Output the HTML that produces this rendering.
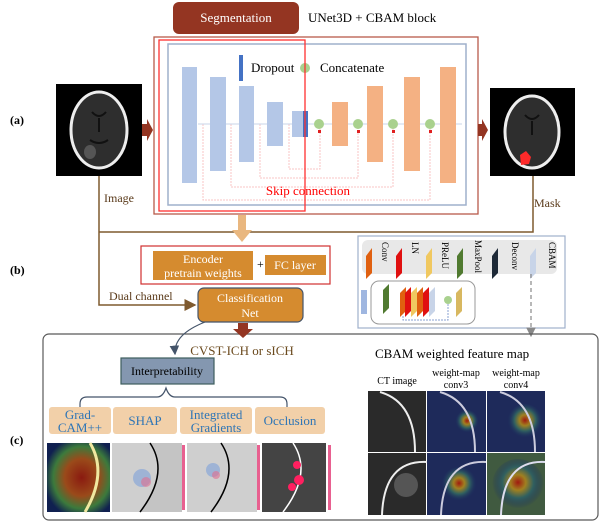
<!DOCTYPE html>
<html><head><meta charset="utf-8"><style>
body{margin:0;background:#fff}
svg{display:block;font-family:"Liberation Serif",serif}
</style></head><body>
<svg width="612" height="522" viewBox="0 0 612 522" xmlns="http://www.w3.org/2000/svg">
<defs>
<marker id="ah" markerWidth="8" markerHeight="8" refX="7" refY="4" orient="auto"><path d="M0,0 L8,4 L0,8z" fill="#7f5a2e"/></marker>
<marker id="ah2" markerWidth="8" markerHeight="8" refX="7" refY="4" orient="auto"><path d="M0,0 L8,4 L0,8z" fill="#44546a"/></marker>
<marker id="ah3" markerWidth="8" markerHeight="8" refX="7" refY="4" orient="auto"><path d="M0,0 L8,4 L0,8z" fill="#888"/></marker>
<radialGradient id="heat" cx="0.55" cy="0.5" r="0.6"><stop offset="0" stop-color="#8a1a10"/><stop offset="0.45" stop-color="#9a4a1a"/><stop offset="0.75" stop-color="#3c7a3c"/><stop offset="1" stop-color="#102050"/></radialGradient>
<radialGradient id="heat2" cx="0.5" cy="0.45" r="0.5"><stop offset="0" stop-color="#a01a10"/><stop offset="0.3" stop-color="#a08020"/><stop offset="0.6" stop-color="#306060"/><stop offset="1" stop-color="#1a2a60" stop-opacity="0"/></radialGradient>
</defs>
<text x="10" y="124" font-size="12" font-weight="bold">(a)</text>
<text x="10" y="274" font-size="12" font-weight="bold">(b)</text>
<text x="10" y="444" font-size="12" font-weight="bold">(c)</text>
<rect x="173" y="2" width="126" height="32" rx="6" fill="#943522"/>
<text x="236" y="22" font-size="13" fill="#fff" text-anchor="middle">Segmentation</text>
<text x="308" y="22" font-size="13">UNet3D + CBAM block</text>
<rect x="154" y="37" width="324" height="177" fill="none" stroke="#b85a4a" stroke-width="1.3"/>
<rect x="168" y="44" width="298" height="161" fill="none" stroke="#9fb0cc" stroke-width="1.5"/>
<g fill="none" stroke="#f8c4c4" stroke-width="1" stroke-dasharray="2,1">
<path d="M289,124 V169 H320 V128"/>
<path d="M260,124 V178 H358 V128"/>
<path d="M231,124 V187 H393 V128"/>
<path d="M203,124 V200 H430 V128"/>
</g>
<line x1="198" y1="124" x2="462" y2="124" stroke="#c8d4ea" stroke-width="1"/>
<g fill="#b4c7e7">
<rect x="182" y="67" width="15" height="116"/>
<rect x="210" y="77" width="16" height="94"/>
<rect x="239" y="86" width="15" height="76"/>
<rect x="267" y="102" width="16" height="44"/>
<rect x="292" y="111" width="15" height="26"/>
</g>
<rect x="303" y="111" width="5" height="26" fill="#4472c4"/>
<rect x="239" y="55" width="4" height="26" fill="#4472c4"/>
<text x="251" y="72" font-size="13">Dropout</text>
<circle cx="305" cy="68" r="5" fill="#a9d18e"/>
<text x="320" y="72" font-size="13">Concatenate</text>
<g fill="#f4b183">
<rect x="332" y="102" width="16" height="44"/>
<rect x="367" y="86" width="16" height="76"/>
<rect x="404" y="77" width="16" height="94"/>
<rect x="440" y="67" width="16" height="116"/>
</g>
<g fill="#a9d18e"><circle cx="319" cy="124" r="5"/><circle cx="358" cy="124" r="5"/><circle cx="393" cy="124" r="5"/><circle cx="430" cy="124" r="5"/></g>
<g fill="#e02020"><rect x="318" y="130" width="3" height="3"/><rect x="357" y="130" width="3" height="3"/><rect x="392" y="130" width="3" height="3"/><rect x="429" y="130" width="3" height="3"/></g>
<text x="308" y="195" font-size="13" fill="#ff0000" text-anchor="middle">Skip connection</text>
<rect x="159" y="40" width="146" height="171" fill="none" stroke="#ff3030" stroke-width="1.3"/>
<!-- CT images -->
<rect x="56" y="84" width="86" height="92" fill="#000"/>
<ellipse cx="99" cy="130" rx="28" ry="38" fill="#2e2e2e" stroke="#eee" stroke-width="3"/>
<path d="M92,112 q7,8 14,0 M99,118 v14 M90,140 q9,6 18,0" fill="none" stroke="#111" stroke-width="2"/>
<ellipse cx="90" cy="152" rx="6" ry="7" fill="#555"/>
<rect x="490" y="88" width="85" height="88" fill="#000"/>
<ellipse cx="532" cy="132" rx="27" ry="36" fill="#2e2e2e" stroke="#eee" stroke-width="3"/>
<path d="M525,115 q7,8 14,0 M532,121 v14" fill="none" stroke="#111" stroke-width="2"/>
<path d="M520,155 l6,-4 l5,6 l-2,7 l-8,1z" fill="#ff2a2a"/>
<path d="M142,124 h5 v-5 l6,11 l-6,11 v-5 h-5z" fill="#943522"/>
<path d="M478,124 h4 v-5 l6,11 l-6,11 v-5 h-4z" fill="#943522"/>
<g stroke="#7f5a2e" stroke-width="1.5" fill="none">
<path d="M99,176 V305 H195" marker-end="url(#ah)"/>
<path d="M99,232 H533 V176"/>
</g>
<text x="104" y="202" font-size="12" fill="#5a3a1a">Image</text>
<text x="534" y="207" font-size="12" fill="#5a3a1a">Mask</text>
<text x="109" y="300" font-size="12" fill="#5a3a1a">Dual channel</text>
<path d="M238,215 h8 v15 h6 l-10,12 l-10,-12 h6z" fill="#e9b77f"/>
<rect x="141" y="246" width="189" height="38" fill="none" stroke="#d03030" stroke-width="1.2"/>
<rect x="153" y="251" width="100" height="29" fill="#d58b2f"/>
<text x="203" y="263" font-size="12" fill="#fff" text-anchor="middle">Encoder</text>
<text x="203" y="277" font-size="12" fill="#fff" text-anchor="middle">pretrain weights</text>
<text x="257" y="268" font-size="12">+</text>
<rect x="265" y="255" width="61" height="20" fill="#d58b2f"/>
<text x="295" y="269" font-size="12" fill="#fff" text-anchor="middle">FC layer</text>
<rect x="198" y="288" width="105" height="34" rx="6" fill="#d58b2f" stroke="#44546a" stroke-width="1.2"/>
<text x="250" y="302" font-size="12" fill="#fff" text-anchor="middle">Classification</text>
<text x="250" y="317" font-size="12" fill="#fff" text-anchor="middle">Net</text>
<rect x="358" y="236" width="207" height="92" fill="none" stroke="#9fb0cc" stroke-width="1.2"/>
<rect x="362" y="240" width="195" height="34" rx="6" fill="#e8e8e8"/>
<g>
<path d="M366,256 l6,-8 v25 l-6,6z" fill="#e06010"/>
<path d="M396,256 l6,-8 v25 l-6,6z" fill="#e01010"/>
<path d="M426,256 l6,-8 v25 l-6,6z" fill="#f0c860"/>
<path d="M457,256 l6,-8 v25 l-6,6z" fill="#507a30"/>
<path d="M492,256 l6,-8 v25 l-6,6z" fill="#1e2a38"/>
<path d="M530,256 l6,-8 v25 l-6,6z" fill="#c8d4e8"/>
</g>
<g font-size="9">
<text transform="translate(382,242) rotate(90)">Conv</text>
<text transform="translate(412,242) rotate(90)">LN</text>
<text transform="translate(442,242) rotate(90)">PReLU</text>
<text transform="translate(475,240) rotate(90)">MaxPool</text>
<text transform="translate(512,242) rotate(90)">Deconv</text>
<text transform="translate(549,242) rotate(90)">CBAM</text>
</g>
<rect x="361" y="290" width="6" height="24" fill="#9fb6e0"/>
<rect x="371" y="281" width="104" height="43" rx="8" fill="none" stroke="#999"/>
<path d="M383,290 l6,-6 v24 l-6,6z" fill="#507a30"/>
<path d="M400,293 l6,-6 v24 l-6,6z" fill="#e06010"/>
<path d="M405,293 l6,-6 v24 l-6,6z" fill="#e01010"/>
<path d="M411,293 l6,-6 v24 l-6,6z" fill="#f0c860"/>
<path d="M417,293 l6,-6 v24 l-6,6z" fill="#e06010"/>
<path d="M423,293 l6,-6 v24 l-6,6z" fill="#e01010"/>
<path d="M429,293 l6,-6 v24 l-6,6z" fill="#c8d4e8"/>
<circle cx="448" cy="300" r="4" fill="#a9d18e"/>
<path d="M456,293 l6,-6 v24 l-6,6z" fill="#d8b860"/>
<path d="M403,316 v4 h45 v-16" fill="none" stroke="#8aa0d0" stroke-dasharray="2,1"/>
<line x1="531" y1="274" x2="531" y2="336" stroke="#888" stroke-width="1.2" stroke-dasharray="4,3" marker-end="url(#ah3)"/>
<rect x="43" y="334" width="555" height="186" rx="6" fill="none" stroke="#595959" stroke-width="1.2"/>
<path d="M238,323 h10 v6 h5 l-10,9 l-10,-9 h5z" fill="#943522"/>
<path d="M205,322 C185,330 174,340 175,354" fill="none" stroke="#44546a" stroke-width="1.2" marker-end="url(#ah2)"/>
<text x="242" y="355" font-size="13" fill="#6b4a1e" text-anchor="middle">CVST-ICH or sICH</text>
<rect x="121" y="358" width="93" height="26" fill="#8497b0" stroke="#3e5e5e" stroke-width="1.2"/>
<text x="167" y="375" font-size="12" text-anchor="middle">Interpretability</text>
<path d="M80,407 v-3 q0,-7 7,-7 h70 q6,0 9,-9 q3,9 9,9 h105 q7,0 7,7 v3" fill="none" stroke="#44546a" stroke-width="1.2"/>
<g fill="#f2d0a9">
<rect x="49" y="407" width="62" height="27" rx="3"/>
<rect x="113" y="407" width="64" height="27" rx="3"/>
<rect x="180" y="407" width="72" height="27" rx="3"/>
<rect x="255" y="407" width="70" height="27" rx="3"/>
</g>
<g font-size="13" fill="#2e75b6" text-anchor="middle">
<text x="80" y="419">Grad-</text><text x="80" y="432">CAM++</text>
<text x="145" y="425">SHAP</text>
<text x="216" y="419">Integrated</text><text x="216" y="432">Gradients</text>
<text x="290" y="425">Occlusion</text>
</g>
<rect x="47" y="443" width="63" height="69" fill="url(#heat)"/>
<path d="M90,443 q18,30 -5,69" fill="none" stroke="#f0e8a0" stroke-width="3"/>
<rect x="112" y="443" width="70" height="69" fill="#cfcfcf"/>
<path d="M150,443 q20,30 -10,69 h42 v-69z" fill="#c4c4c4"/>
<path d="M150,443 q20,30 -10,69" fill="none" stroke="#000" stroke-width="1.5"/>
<rect x="187" y="443" width="70" height="69" fill="#cfcfcf"/>
<path d="M221,443 q20,30 -10,69" fill="none" stroke="#000" stroke-width="1.5"/>
<rect x="262" y="443" width="64" height="69" fill="#444"/>
<path d="M293,443 q20,30 -10,69" fill="none" stroke="#fff" stroke-width="1.5"/>
<g fill="#ff2060"><circle cx="297" cy="465" r="4"/><circle cx="299" cy="480" r="5"/><circle cx="292" cy="487" r="4"/></g>
<g fill="#8aa8d8" opacity="0.7"><circle cx="142" cy="478" r="9"/><circle cx="213" cy="470" r="7"/></g>
<g fill="#e07090" opacity="0.6"><circle cx="146" cy="482" r="5"/><circle cx="216" cy="475" r="4"/></g>
<rect x="182" y="445" width="3" height="65" fill="#e86090"/>
<rect x="257" y="445" width="3" height="65" fill="#e86090"/>
<rect x="328" y="445" width="3" height="65" fill="#e86090"/>
<text x="375" y="358" font-size="13">CBAM weighted feature map</text>
<g font-size="10" text-anchor="middle">
<text x="397" y="384">CT image</text>
<text x="456" y="376">weight-map</text><text x="456" y="388">conv3</text>
<text x="516" y="376">weight-map</text><text x="516" y="388">conv4</text>
</g>
<rect x="368" y="391" width="58" height="61" fill="#2a2a2a"/>
<path d="M380,392 q35,10 35,60" fill="none" stroke="#eee" stroke-width="2"/>
<rect x="427" y="391" width="59" height="61" fill="#1e2a5a"/>
<circle cx="467" cy="422" r="12" fill="url(#heat2)"/>
<path d="M440,392 q35,10 35,60" fill="none" stroke="#ccd" stroke-width="2"/>
<rect x="487" y="391" width="58" height="61" fill="#1e2a5a"/>
<circle cx="525" cy="422" r="18" fill="url(#heat2)"/>
<path d="M500,392 q35,10 35,60" fill="none" stroke="#ccd" stroke-width="2"/>
<rect x="368" y="453" width="58" height="62" fill="#2a2a2a"/>
<path d="M382,515 q2,-55 45,-53" fill="none" stroke="#eee" stroke-width="2"/>
<circle cx="406" cy="485" r="12" fill="#555"/>
<rect x="427" y="453" width="59" height="62" fill="#1e2a5a"/>
<circle cx="459" cy="485" r="18" fill="url(#heat2)"/>
<path d="M441,515 q2,-55 45,-53" fill="none" stroke="#ccd" stroke-width="2"/>
<rect x="487" y="453" width="58" height="62" fill="#405a40"/>
<circle cx="518" cy="485" r="26" fill="url(#heat2)"/>
<path d="M501,515 q2,-55 44,-53" fill="none" stroke="#dde" stroke-width="2"/>
</svg>
</body></html>
